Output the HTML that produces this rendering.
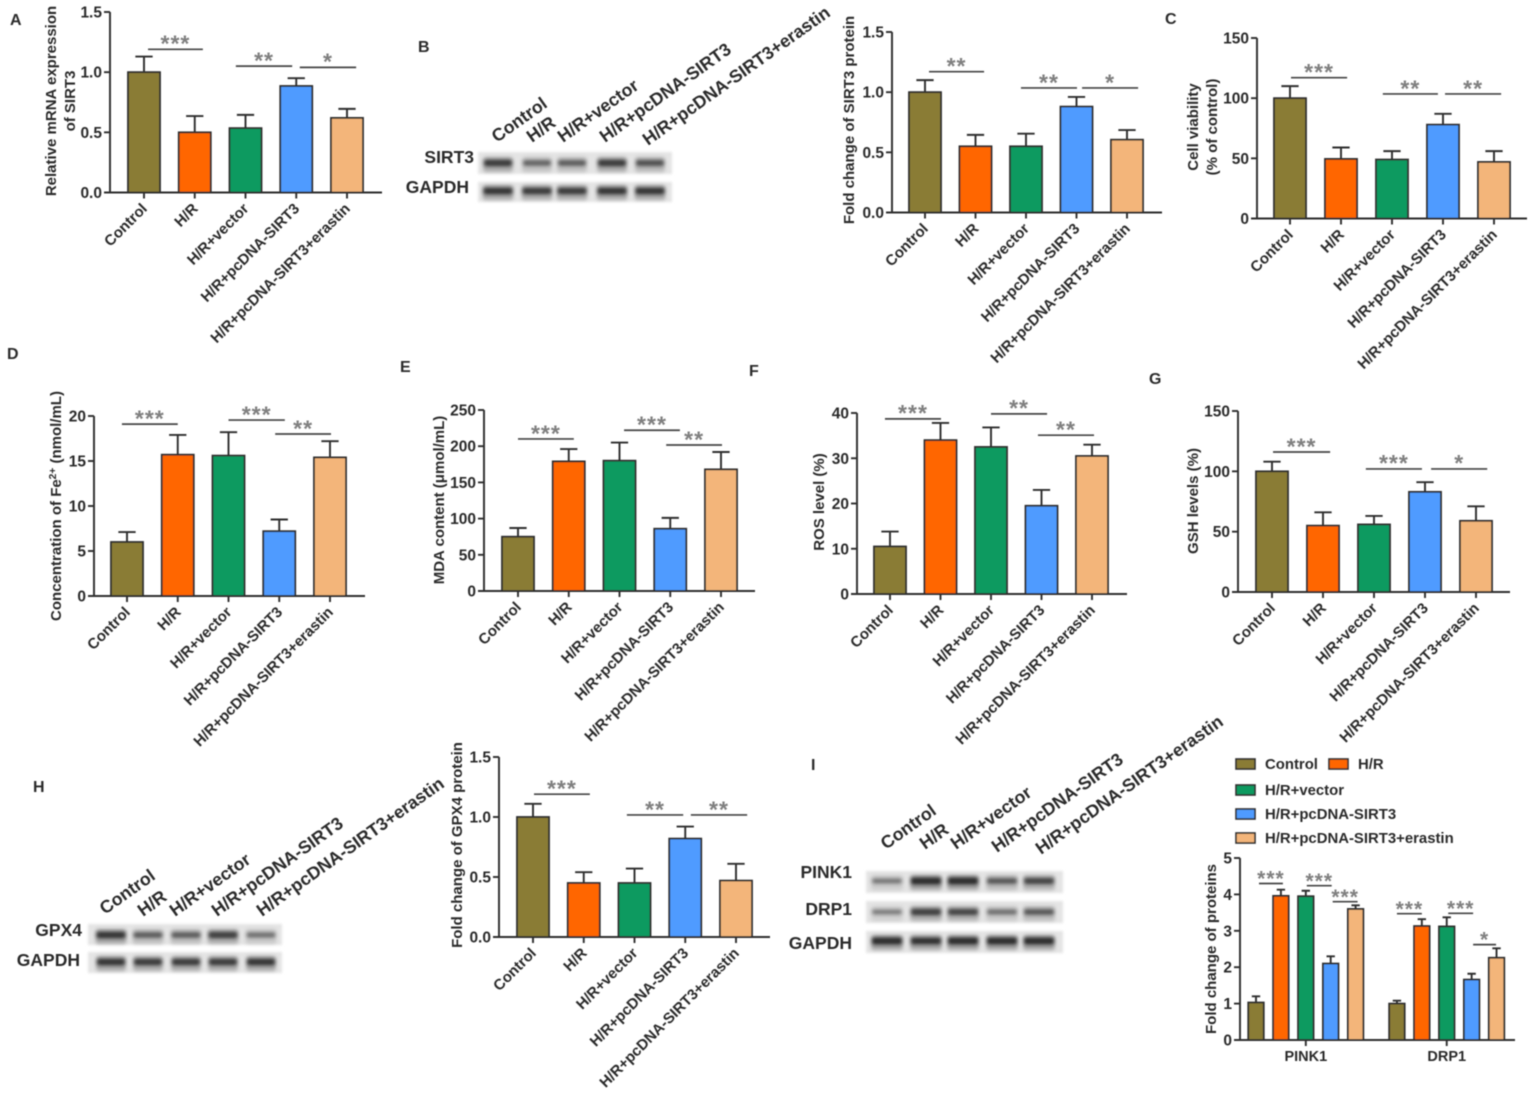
<!DOCTYPE html>
<html lang="en">
<head>
<meta charset="utf-8">
<title>SIRT3 multi-panel figure</title>
<style>
html,body{margin:0;padding:0;background:#fff;width:1535px;height:1095px;overflow:hidden}
svg{display:block;font-family:"Liberation Sans",Arial,sans-serif}
text{fill:#2b2b2b}
</style>
</head>
<body>
<svg id="figure" xmlns="http://www.w3.org/2000/svg" width="1535" height="1095" viewBox="0 0 1535 1095">
<defs>
<filter id="soft" x="-5%" y="-5%" width="110%" height="110%"><feGaussianBlur stdDeviation="0.45"/></filter>
<filter id="bandBlur" x="-30%" y="-100%" width="160%" height="300%"><feGaussianBlur stdDeviation="1.8"/></filter>
<filter id="bgBlur" x="-5%" y="-20%" width="110%" height="140%"><feGaussianBlur stdDeviation="1.2"/></filter>
</defs>
<g id="root" filter="url(#soft)"></g>
</svg>
<script>
// ---------- shared data ----------
const categories = ["Control","H/R","H/R+vector","H/R+pcDNA-SIRT3","H/R+pcDNA-SIRT3+erastin"];
const colors = ["#8a7b35","#ff6600","#0a9a60","#4f9bff","#f3b57a"];

// Panel A
const aValues = [1.0,0.5,0.535,0.885,0.62];
const aErrTops = [1.13,0.635,0.645,0.95,0.695];
const aTicks = ["0.0","0.5","1.0","1.5"];
const aSig = [[0.08,1.16,1.19,"***"],[1.81,2.92,1.05,"**"],[3.07,4.18,1.04,"*"]];
// Panel B
const bValues = [1.0,0.55,0.55,0.88,0.605];
const bErrTops = [1.10,0.645,0.655,0.96,0.685];
const bTicks = ["0.0","0.5","1.0","1.5"];
const bSig = [[0.08,1.17,1.17,"**"],[1.9,3.01,1.035,"**"],[3.11,4.22,1.035,"*"]];
// Panel C
const cValues = [100,49.5,49,78,47];
const cErrTops = [110,59,56,87,56];
const cTicks = ["0","50","100","150"];
const cSig = [[0.02,1.12,117,"***"],[1.82,2.9,103.5,"**"],[3.04,4.14,103.5,"**"]];
// Panel D
const dValues = [6,15.7,15.6,7.2,15.4];
const dErrTops = [7.1,17.9,18.2,8.5,17.2];
const dTicks = ["0","5","10","15","20"];
const dSig = [[-0.1,1.0,19.1,"***"],[2.0,3.11,19.55,"***"],[2.92,4.02,18,"**"]];
// Panel E
const eValues = [75,179,180,86,168];
const eErrTops = [87,196,205,101,192];
const eTicks = ["0","50","100","150","200","250"];
const eSig = [[0,1.1,210,"***"],[2.09,3.19,222,"***"],[2.92,4.02,201.7,"**"]];
// Panel F
const fValues = [10.5,34,32.5,19.5,30.5];
const fErrTops = [13.8,37.8,36.8,23,33];
const fTicks = ["0","10","20","30","40"];
const fSig = [[-0.1,1.01,38.7,"***"],[2,3.11,39.8,"**"],[2.93,4.04,35.1,"**"]];
// Panel G
const gValues = [100,55,56,83,59];
const gErrTops = [108,66,63,91,71];
const gTicks = ["0","50","100","150"];
const gSig = [[0.02,1.14,116,"***"],[1.84,2.94,102,"***"],[3.12,4.22,102,"*"]];
// Panel H
const hValues = [1.0,0.45,0.45,0.82,0.47];
const hErrTops = [1.11,0.54,0.57,0.92,0.61];
const hTicks = ["0.0","0.5","1.0","1.5"];
const hSig = [[0.02,1.12,1.19,"***"],[1.85,2.96,1.017,"**"],[3.11,4.22,1.017,"**"]];
// Panel I (grouped)
const iGroups = ["PINK1","DRP1"];
const iPinkValues = [1.03,3.96,3.95,2.1,3.6];
const iPinkErrTops = [1.2,4.13,4.1,2.3,3.7];
const iDrpValues = [1.0,3.13,3.12,1.66,2.26];
const iDrpErrTops = [1.08,3.32,3.37,1.82,2.52];
const iTicks = ["0","1","2","3","4","5"];
const iSig = [[0.12,1.08,4.3,"***"],[2.04,3.04,4.24,"***"],[3.08,4.08,3.8,"***"],[5.66,6.66,3.47,"***"],[7.72,8.72,3.48,"***"],[8.72,9.64,2.62,"*"]];

// Western-blot band intensities per lane
const sirt3Bands = [0.85,0.5,0.55,0.85,0.65];
const sirt3GapdhBands = [0.9,0.85,0.85,0.9,0.9];
const gpx4Bands = [0.9,0.55,0.55,0.8,0.4];
const gpx4GapdhBands = [0.9,0.85,0.85,0.85,0.9];
const pink1Bands = [0.35,1,1,0.6,0.75];
const drp1Bands = [0.3,0.8,0.75,0.4,0.6];
const pinkGapdhBands = [1,0.95,1,1,1];

// ---------- helpers ----------
const NS = "http://www.w3.org/2000/svg";
const root = document.getElementById("root");
function mk(tag, attrs, parent){
  const n = document.createElementNS(NS, tag);
  for (const k in attrs) n.setAttribute(k, attrs[k]);
  parent.appendChild(n);
  return n;
}
const INK = "#2f2f2f";

function drawAxes(g, p, yScale, ticks){
  const axis = mk("path",{d:`M${p.axisX} ${p.yTop}V${p.yBase}M${p.axisX-6} ${p.yBase}H${p.xEnd}`,fill:"none",stroke:INK,"stroke-width":1.9},g);
  
  
  ticks.forEach(label=>{
    const y = yScale(Number(label));
    const tick = mk("line",{x1:p.axisX-6,x2:p.axisX,y1:y,y2:y,stroke:INK,"stroke-width":1.9},g);
    
    
    const t = mk("text",{x:p.axisX-8,y:y+5.5,"text-anchor":"end","font-size":15.5,"font-weight":"bold"},g);
    t.textContent = label;
    
    
  });
}
function drawBar(g, cx, w, value, errTop, color, yScale, yBase){
  const cap = w*0.27;
  const err = mk("path",{d:`M${cx} ${yScale(value)}V${yScale(errTop)}M${cx-cap} ${yScale(errTop)}H${cx+cap}`,fill:"none",stroke:INK,"stroke-width":1.9},g);
  
  
  const bar = mk("rect",{x:cx-w/2,y:yScale(value),width:w,height:yBase-yScale(value),fill:color,stroke:INK,"stroke-width":1.8},g);
  
  
}
function drawSig(g, sig, xSlot, yScale, fs){
  sig.forEach(s=>{
    const x1=xSlot(s[0]), x2=xSlot(s[1]), y=yScale(s[2]);
    const line = mk("line",{x1:x1,x2:x2,y1:y,y2:y,stroke:"#444","stroke-width":1.7},g);
    
    
    const star = mk("text",{x:(x1+x2)/2,y:y+fs*0.1,"text-anchor":"middle","font-size":fs,"font-weight":"bold","letter-spacing":1,style:"fill:#808080"},g);
    star.textContent = s[3];
    
    
  });
}
function drawTitle(g, lines, x, cy, size){
  lines.forEach((line,i)=>{
    const tx = x + i*19;
    const t = mk("text",{transform:`translate(${tx} ${cy}) rotate(-90)`,"text-anchor":"middle","font-size":size,"font-weight":"bold"},g);
    if (typeof line === "object"){
      t.appendChild(document.createTextNode(line.before));
      const sup = mk("tspan",{dy:-5,"font-size":size*0.68},t);
      sup.textContent = line.superscript;
      const rest = mk("tspan",{dy:5},t);
      rest.textContent = line.after;
    } else {
      t.textContent = line;
    }
    
    
  });
}
function drawPanel(name, p, values, errTops, ticks, sig, titleLines, titleX, titleY, titleSize){
  const g = mk("g",{},root);
  
  
  const yScale = v => p.yBase - v/p.yMax*(p.yBase-p.yTop);
  const xSlot = s => p.c0 + s*p.step;
  drawAxes(g,p,yScale,ticks);
  categories.forEach((c,i)=>{
    const cx = xSlot(i);
    const tick = mk("line",{x1:cx,x2:cx,y1:p.yBase,y2:p.yBase+6,stroke:INK,"stroke-width":1.9},g);
    
    
    const t = mk("text",{transform:`translate(${cx+4} ${p.yBase+17}) rotate(-45)`,"text-anchor":"end","font-size":15,"font-weight":"bold"},g);
    t.textContent = c;
    
    
    drawBar(g,cx,p.barW,values[i],errTops[i],colors[i],yScale,p.yBase);
  });
  drawSig(g,sig,xSlot,yScale,23);
  drawTitle(g,titleLines,titleX,titleY,titleSize);
}

drawPanel("panel-a-chart",{axisX:110,xEnd:382,yBase:192.5,yTop:12,yMax:1.5,c0:144,step:50.75,barW:32},aValues,aErrTops,aTicks,aSig,["Relative mRNA expression","of SIRT3"],56,101,15);
drawPanel("panel-b-chart",{axisX:892,xEnd:1162,yBase:212.5,yTop:32,yMax:1.5,c0:925,step:50.5,barW:32},bValues,bErrTops,bTicks,bSig,["Fold change of SIRT3 protein"],854,120,15);
drawPanel("panel-c-chart",{axisX:1257,xEnd:1527,yBase:218.5,yTop:38,yMax:150,c0:1290,step:51,barW:32},cValues,cErrTops,cTicks,cSig,["Cell viability","(% of control)"],1198,127,15);
drawPanel("panel-d-chart",{axisX:94,xEnd:365,yBase:596,yTop:416,yMax:20,c0:127,step:50.75,barW:32},dValues,dErrTops,dTicks,dSig,[{before:"Concentration of Fe",superscript:"2+",after:" (nmol/mL)"}],61,506,15);
drawPanel("panel-e-chart",{axisX:484,xEnd:755,yBase:591,yTop:410,yMax:250,c0:518,step:50.75,barW:32},eValues,eErrTops,eTicks,eSig,["MDA content (μmol/mL)"],444,500,15);
drawPanel("panel-f-chart",{axisX:857,xEnd:1127,yBase:594,yTop:413,yMax:40,c0:890,step:50.5,barW:32},fValues,fErrTops,fTicks,fSig,["ROS level (%)"],824,502,15);
drawPanel("panel-g-chart",{axisX:1238,xEnd:1510,yBase:592,yTop:411,yMax:150,c0:1272,step:51,barW:32},gValues,gErrTops,gTicks,gSig,["GSH levels (%)"],1198,501,15);
drawPanel("panel-h-chart",{axisX:499,xEnd:770,yBase:937,yTop:757,yMax:1.5,c0:533,step:50.75,barW:32},hValues,hErrTops,hTicks,hSig,["Fold change of GPX4 protein"],462,845,15);

// Panel I: grouped bars
(function(){
  const p = {axisX:1240,xEnd:1515,yBase:1040,yTop:858,yMax:5,c0:1256,step:24.9,barW:15.5,groupGap:5.66};
  const g = mk("g",{},root);
  
  
  const yScale = v => p.yBase - v/p.yMax*(p.yBase-p.yTop);
  const xSlot = s => p.c0 + s*p.step;
  drawAxes(g,p,yScale,iTicks);
  const seriesVals = [iPinkValues,iDrpValues];
  const seriesErrs = [iPinkErrTops,iDrpErrTops];
  iGroups.forEach((name,gi)=>{
    const mid = xSlot(gi*p.groupGap+2);
    const tick = mk("line",{x1:mid,x2:mid,y1:p.yBase,y2:p.yBase+6,stroke:INK,"stroke-width":1.9},g);
    
    
    const t = mk("text",{x:mid,y:p.yBase+21,"text-anchor":"middle","font-size":14.5,"font-weight":"bold"},g);
    t.textContent = name;
    
    
    categories.forEach((c,i)=>{
      drawBar(g,xSlot(gi*p.groupGap+i),p.barW,seriesVals[gi][i],seriesErrs[gi][i],colors[i],yScale,p.yBase);
    });
  });
  drawSig(g,iSig,xSlot,yScale,21);
  drawTitle(g,["Fold change of proteins"],1216,949,15);

  // Legend
  const legendRows = [[0,1],[2],[3],[4]];
  const legendRowY = [764,790,814,838];
  const swatchX = [1236,1329];
  const labelX = [1265,1358];
  legendRows.forEach((row,r)=>{
    row.forEach((catIdx,k)=>{
      const entry = mk("g",{},g);
      
      
      const sw = mk("rect",{x:swatchX[k],y:legendRowY[r]-5,width:19,height:10,fill:colors[catIdx],stroke:INK,"stroke-width":1.6},entry);
      
      
      const lt = mk("text",{x:labelX[k],y:legendRowY[r]+5,"font-size":14.9,"font-weight":"bold"},entry);
      lt.textContent = categories[catIdx];
      
      
    });
  });
})();

// ---------- western blots ----------
function drawBlotRow(name, label, labelRight, labelY, x, y, w, h, laneCenters, intensities, bandY, bandW){
  const g = mk("g",{},root);
  
  
  const bg = mk("rect",{x:x,y:y,width:w,height:h,fill:"#e4e4e4",filter:"url(#bgBlur)"},g);
  
  
  intensities.forEach((v,i)=>{
    const halo = mk("rect",{x:laneCenters[i]-bandW/2,y:bandY-6,width:bandW,height:15,rx:3,fill:"#6f6f6f",opacity:0.55*v,filter:"url(#bandBlur)"},g);
    
    
    const band = mk("rect",{x:laneCenters[i]-bandW/2+1,y:bandY-2-v*1.5,width:bandW-2,height:4+v*3,rx:2.5,fill:"#1a1a1a",opacity:0.3+0.6*v,filter:"url(#bandBlur)"},g);
    
    
  });
  const t = mk("text",{x:labelRight,y:labelY,"text-anchor":"end","font-size":17.5,"font-weight":"bold"},g);
  t.textContent = label;
  
  
}
function drawLaneLabels(name, baseX, baseY){
  categories.forEach((c,i)=>{
    const t = mk("text",{transform:`translate(${baseX[i]} ${baseY[i]}) rotate(-35.5)`,"font-size":17.8,"font-weight":"bold"},root);
    t.textContent = c;
    
    
  });
}
const bLanes = [498,537,572,612,650];
drawBlotRow("sirt3-blot","SIRT3",474,163,478,152,194,22,bLanes,sirt3Bands,163,30);
drawBlotRow("sirt3-gapdh-blot","GAPDH",469,193,478,182,194,20,bLanes,sirt3GapdhBands,191,31);
drawLaneLabels("blot-b-lane-label",[497,532,563,605,648],[143,143,143,143,146]);

const hLanes = [111,148,186,223,261];
drawBlotRow("gpx4-blot","GPX4",82,936,88,924,194,21,hLanes,gpx4Bands,935,31);
drawBlotRow("gpx4-gapdh-blot","GAPDH",80,966,88,952,194,21,hLanes,gpx4GapdhBands,962,30);
drawLaneLabels("blot-h-lane-label",[105,143,175,217,262],[915,917,917,917,917]);

const iLanes = [887,926,963,1002,1039];
drawBlotRow("pink1-blot","PINK1",852,878,866,871,197,22,iLanes,pink1Bands,881,32);
drawBlotRow("drp1-blot","DRP1",852,915,866,901,197,22,iLanes,drp1Bands,912,32);
drawBlotRow("pink-gapdh-blot","GAPDH",852,949,866,931,197,22,iLanes,pinkGapdhBands,941,32);
drawLaneLabels("blot-i-lane-label",[886,925,956,997,1041],[850,850,850,853,855]);

// ---------- panel letters ----------
const panelLetters = ["A","B","C","D","E","F","G","H","I"];
const letterX = [10,418,1165,7,400,749,1149,33,811];
const letterY = [25,52,24,359,372,376,384,792,770];
panelLetters.forEach((l,i)=>{
  const t = mk("text",{x:letterX[i],y:letterY[i],"font-size":16,"font-weight":"bold"},root);
  t.textContent = l;
  
  
});
</script>
</body>
</html>
